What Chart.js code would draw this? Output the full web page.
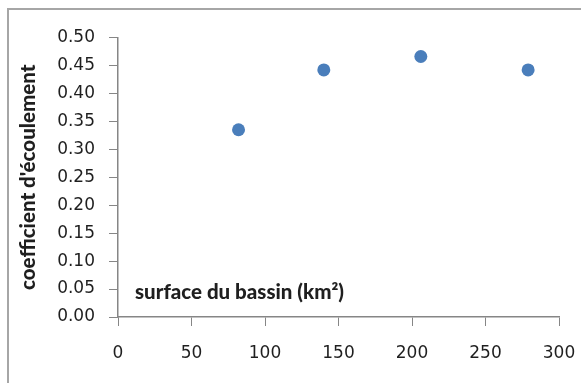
<!DOCTYPE html>
<html>
<head>
<meta charset="utf-8">
<script src="https://cdn.jsdelivr.net/npm/chart.js@4/dist/chart.umd.min.js"></script>
<style>
  html, body { margin: 0; padding: 0; background: #ffffff; }
  canvas { display: block; }
</style>
</head>
<body>
<canvas id="chart" width="581" height="383"></canvas>
<script>
// Surface of each basin (km²) and its runoff coefficient
const surfaceBassin = [82, 140, 206, 279];
const coefEcoulement = [0.335, 0.442, 0.466, 0.442];

// Axis ranges and titles
const xTicks = [0, 50, 100, 150, 200, 250, 300];
const yTicks = [0, 0.05, 0.10, 0.15, 0.20, 0.25, 0.30, 0.35, 0.40, 0.45, 0.50];
const xTitle = 'surface du bassin (km²)';
const yTitle = "coefficient d'écoulement";

const axisGray = '#868686';
const textColor = '#1f1f1f';
const tickFont = { family: 'DejaVu Sans', size: 17 };
const titleFont = { family: 'Lato', size: 20.5, weight: '900' };

const points = surfaceBassin.map((x, i) => ({ x: x, y: coefEcoulement[i] }));

// Outer frame of the chart box
const framePlugin = {
  id: 'frame',
  beforeDraw(chart) {
    const ctx = chart.ctx;
    ctx.save();
    ctx.strokeStyle = '#a6a6a6';
    ctx.lineWidth = 2;
    ctx.beginPath();
    ctx.moveTo(8, chart.height + 2);
    ctx.lineTo(8, 9);
    ctx.lineTo(chart.width + 2, 9);
    ctx.stroke();
    ctx.restore();
  }
};

// Horizontal axis title, placed inside the plot area near the bottom left
const innerTitlePlugin = {
  id: 'innerTitle',
  afterDraw(chart) {
    const { ctx, chartArea } = chart;
    ctx.save();
    ctx.font = '900 20.5px Lato';
    ctx.fillStyle = textColor;
    ctx.textAlign = 'left';
    ctx.textBaseline = 'middle';
    ctx.fillText(xTitle, chartArea.left + 17, chartArea.bottom - 25);
    ctx.restore();
  }
};

new Chart(document.getElementById('chart'), {
  type: 'scatter',
  data: {
    datasets: [{
      data: points,
      backgroundColor: '#4a7ebb',
      borderColor: '#4a7ebb',
      pointRadius: 6.5,
      pointHoverRadius: 6.5,
      borderWidth: 0
    }]
  },
  options: {
    responsive: false,
    devicePixelRatio: 1,
    animation: false,
    layout: { padding: { left: 16, top: 37.5, right: 22, bottom: 0 } },
    plugins: {
      legend: { display: false },
      tooltip: { enabled: false }
    },
    scales: {
      x: {
        type: 'linear',
        min: xTicks[0],
        max: xTicks[xTicks.length - 1],
        afterFit(scale) {
          scale.height = 66;
          scale.paddingLeft = 0;
          scale.paddingRight = 0;
        },
        afterBuildTicks(scale) { scale.ticks = xTicks.map(v => ({ value: v })); },
        ticks: {
          color: textColor,
          font: tickFont,
          padding: 17,
          maxRotation: 0,
          callback: v => String(v)
        },
        grid: {
          drawOnChartArea: false,
          drawTicks: true,
          tickLength: 9,
          tickColor: axisGray,
          tickWidth: 1
        },
        border: { color: axisGray, width: 1.5 }
      },
      y: {
        type: 'linear',
        min: yTicks[0],
        max: yTicks[yTicks.length - 1],
        afterFit(scale) {
          scale.width = 102;
          scale.paddingTop = 0;
          scale.paddingBottom = 0;
        },
        afterBuildTicks(scale) { scale.ticks = yTicks.map(v => ({ value: v })); },
        ticks: {
          color: textColor,
          font: tickFont,
          padding: 14,
          callback: v => Number(v).toFixed(2)
        },
        grid: {
          drawOnChartArea: false,
          drawTicks: true,
          tickLength: 9,
          tickColor: axisGray,
          tickWidth: 1
        },
        border: { color: axisGray, width: 1.5 },
        title: {
          display: true,
          text: yTitle,
          color: textColor,
          font: titleFont,
          padding: { top: 0, bottom: 0 }
        }
      }
    }
  },
  plugins: [framePlugin, innerTitlePlugin]
});
</script>
</body>
</html>
